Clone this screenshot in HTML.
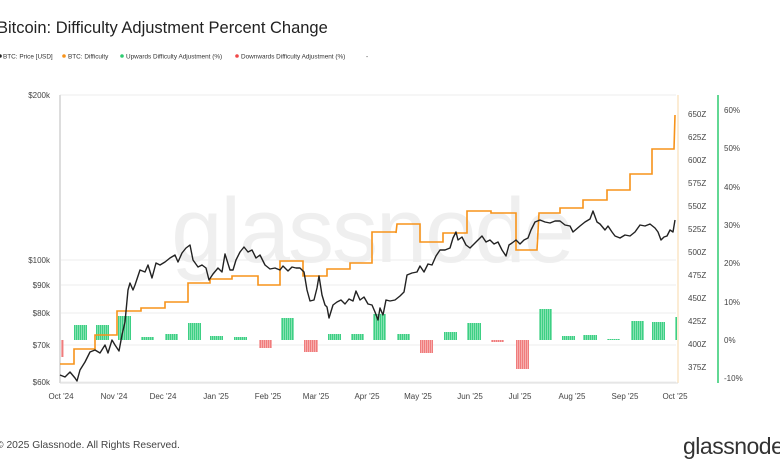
<!DOCTYPE html>
<html><head><meta charset="utf-8"><style>
body{margin:0;width:780px;height:470px;background:#fff;overflow:hidden;font-family:"Liberation Sans",sans-serif}
</style></head><body>
<svg width="780" height="470" xmlns="http://www.w3.org/2000/svg" font-family="Liberation Sans, sans-serif">
<defs>
<pattern id="g" width="2" height="4" patternUnits="userSpaceOnUse"><rect width="2" height="4" fill="#3dcf84"/><rect x="1.4" width="0.6" height="4" fill="#b8efd0"/></pattern>
<pattern id="r" width="2" height="4" patternUnits="userSpaceOnUse"><rect width="2" height="4" fill="#f07c7c"/><rect x="1.4" width="0.6" height="4" fill="#fbd0d0"/></pattern>
</defs>
<text x="-3" y="33" font-size="16.5" fill="#222">Bitcoin: Difficulty Adjustment Percent Change</text>
<g font-size="6.4" fill="#333">
<circle cx="0" cy="56" r="1.8" fill="#222"/><text x="3" y="58.3">BTC: Price [USD]</text>
<circle cx="64" cy="56" r="1.8" fill="#f7931a"/><text x="68" y="58.3">BTC: Difficulty</text>
<circle cx="122" cy="56" r="1.8" fill="#2ecc71"/><text x="126" y="58.3">Upwards Difficulty Adjustment (%)</text>
<circle cx="237" cy="56" r="1.8" fill="#f04848"/><text x="241" y="58.3">Downwards Difficulty Adjustment (%)</text>
<text x="366" y="58.3">-</text>
</g>
<text x="372" y="262" font-size="92" fill="#efefef" text-anchor="middle" letter-spacing="-2">glassnode</text>
<g stroke="#eee" stroke-width="1">
<line x1="60" y1="95" x2="676" y2="95"/><line x1="60" y1="260" x2="676" y2="260"/><line x1="60" y1="285" x2="676" y2="285"/><line x1="60" y1="313" x2="676" y2="313"/><line x1="60" y1="345" x2="676" y2="345"/><line x1="60" y1="382" x2="676" y2="382"/>
</g>
<line x1="60" y1="95" x2="60" y2="383" stroke="#ddd" stroke-width="2"/>
<line x1="678" y1="95" x2="678" y2="383" stroke="#f9d9a8" stroke-width="1"/>
<line x1="718" y1="95" x2="718" y2="383" stroke="#2ecc71" stroke-width="1.5"/>
<g font-size="8" fill="#444" text-anchor="end">
<text x="50" y="98">$200k</text><text x="50" y="263">$100k</text><text x="50" y="288">$90k</text><text x="50" y="316">$80k</text><text x="50" y="348">$70k</text><text x="50" y="385">$60k</text>
</g>
<g font-size="8" fill="#444">
<text x="688" y="117">650Z</text><text x="688" y="140">625Z</text><text x="688" y="163">600Z</text><text x="688" y="186">575Z</text><text x="688" y="209">550Z</text><text x="688" y="232">525Z</text><text x="688" y="255">500Z</text><text x="688" y="278">475Z</text><text x="688" y="301">450Z</text><text x="688" y="324">425Z</text><text x="688" y="347">400Z</text><text x="688" y="370">375Z</text>
<text x="724" y="113">60%</text><text x="724" y="151">50%</text><text x="724" y="190">40%</text><text x="724" y="228">30%</text><text x="724" y="266">20%</text><text x="724" y="305">10%</text><text x="724" y="343">0%</text><text x="724" y="381">-10%</text>
</g>
<g stroke="#ddd"><line x1="60" y1="383" x2="678" y2="383"/></g>
<g font-size="8" fill="#444" text-anchor="middle">
<text x="61" y="399">Oct '24</text><text x="114" y="399">Nov '24</text><text x="163" y="399">Dec '24</text><text x="216" y="399">Jan '25</text><text x="268" y="399">Feb '25</text><text x="316" y="399">Mar '25</text><text x="367" y="399">Apr '25</text><text x="418" y="399">May '25</text><text x="470" y="399">Jun '25</text><text x="520" y="399">Jul '25</text><text x="572" y="399">Aug '25</text><text x="625" y="399">Sep '25</text><text x="675" y="399">Oct '25</text>
</g>
<g>
<rect x="61" y="340" width="2.5" height="17" fill="url(#r)"/>
<rect x="74" y="325" width="13" height="15" fill="url(#g)"/>
<rect x="96" y="325" width="13" height="15" fill="url(#g)"/>
<rect x="118" y="316" width="13" height="24" fill="url(#g)"/>
<rect x="141" y="337" width="13" height="3" fill="url(#g)"/>
<rect x="165" y="334" width="13" height="6" fill="url(#g)"/>
<rect x="188" y="323" width="13" height="17" fill="url(#g)"/>
<rect x="210" y="336" width="13" height="4" fill="url(#g)"/>
<rect x="234" y="337" width="13" height="3" fill="url(#g)"/>
<rect x="259" y="340" width="13" height="8" fill="url(#r)"/>
<rect x="281" y="318" width="13" height="22" fill="url(#g)"/>
<rect x="304" y="340" width="14" height="12" fill="url(#r)"/>
<rect x="328" y="334" width="13" height="6" fill="url(#g)"/>
<rect x="351" y="334" width="13" height="6" fill="url(#g)"/>
<rect x="373" y="314" width="13" height="26" fill="url(#g)"/>
<rect x="397" y="334" width="13" height="6" fill="url(#g)"/>
<rect x="420" y="340" width="13" height="13" fill="url(#r)"/>
<rect x="444" y="332" width="13" height="8" fill="url(#g)"/>
<rect x="467" y="323" width="14" height="17" fill="url(#g)"/>
<rect x="491" y="340" width="13" height="2" fill="url(#r)"/>
<rect x="516" y="340" width="13" height="29" fill="url(#r)"/>
<rect x="539" y="309" width="13" height="31" fill="url(#g)"/>
<rect x="562" y="336" width="13" height="4" fill="url(#g)"/>
<rect x="583" y="335" width="14" height="5" fill="url(#g)"/>
<rect x="607" y="339" width="13" height="1" fill="url(#g)"/>
<rect x="631" y="321" width="13" height="19" fill="url(#g)"/>
<rect x="652" y="322" width="13" height="18" fill="url(#g)"/>
<rect x="675" y="317" width="2" height="23" fill="url(#g)"/>
</g>
<polyline fill="none" stroke="#f7931a" stroke-width="1.6" points="60,364 74,364 74,349 95,349 95,335 117,335 117,311 141,311 141,308 165,308 165,302 188,302 188,283 210,283 210,279 232,279 232,276 258,276 258,285 280,285 280,261 303,261 303,276 327,276 327,269 350,269 350,263 372,263 372,232 396,232 396,233 397,224 420,224 420,242 443,242 443,233 467,233 467,211 491,211 491,213 516,213 516,250 537,250 539,213 560,213 560,208 583,208 583,200 607,200 607,190 630,190 630,174 652,174 652,149 674,149 675,115"/>
<polyline fill="none" stroke="#222" stroke-width="1.4" stroke-linejoin="round" points="60,375 65,377 70,372 75,378 77,381 80,370 85,362 90,352 95,350 100,353 105,345 108,353 112,340 115,345 119,351 122,335 125,322 128,290 130,283 133,290 135,285 140,270 145,272 148,265 152,278 156,263 160,265 165,262 170,258 175,255 178,262 182,253 186,248 190,245 193,260 198,267 202,265 206,268 209,280 213,274 218,268 222,272 225,254 230,270 233,270 236,260 240,252 244,247 248,252 252,250 256,258 260,255 265,265 270,269 275,268 280,270 283,266 288,271 292,267 296,268 300,268 304,272 307,290 310,301 314,300 317,288 319,276 322,295 325,305 327,307 329,318 333,305 337,302 341,300 345,304 349,299 353,301 356,291 360,300 364,297 368,304 372,305 375,312 378,320 380,308 383,315 386,300 390,301 395,300 400,296 404,292 407,275 412,273 417,272 420,266 424,272 428,264 432,265 436,256 440,250 445,250 450,248 453,238 456,232 458,240 462,237 466,245 470,248 474,244 478,240 482,236 486,242 490,240 494,244 498,242 502,250 506,256 509,245 512,243 516,240 520,244 524,240 528,238 531,230 535,222 540,220 545,222 550,223 555,221 560,221 565,225 570,226 573,232 580,226 585,222 590,219 593,211 597,222 600,224 605,230 608,226 612,232 615,236 620,238 625,235 630,236 635,232 640,225 645,226 650,224 655,228 658,232 661,240 664,237 667,236 670,230 673,232 675,220"/>
<text x="-4" y="448" font-size="10.3" fill="#444">© 2025 Glassnode. All Rights Reserved.</text>
<text x="683" y="454" font-size="23" fill="#333" letter-spacing="-0.5">glassnode</text>
</svg>
</body></html>
